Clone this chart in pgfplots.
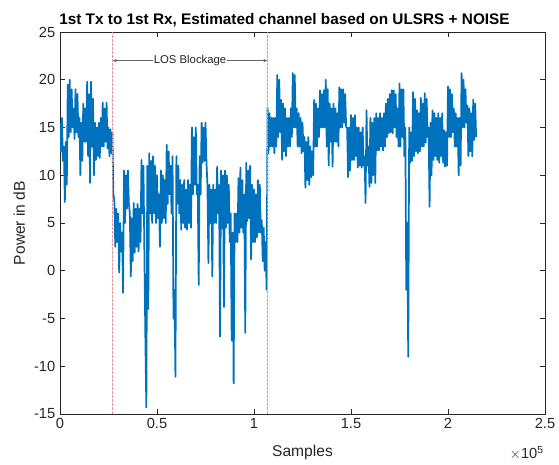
\documentclass[border=0pt]{standalone}
\usepackage{pgfplots}
\pgfplotsset{compat=1.18}
\usepackage{pgfplotstable}
\usepackage{fontspec}
\setmainfont{Liberation Sans}
\usetikzlibrary{arrows.meta}
\definecolor{mblue}{RGB}{0,114,189}
\definecolor{axgray}{RGB}{38,38,38}
\pgfplotstableread{
x y
0 15.5
500 12.5
1000 16
1500 11.5
2000 13
2500 7.2
3000 13.5
3500 9
4000 19.5
4500 14
5000 20
5500 14.5
6000 19
6500 15
7000 17
7500 13.8
8000 19
8500 14.5
9000 18.5
9500 14
10000 16
10500 10
11000 15.5
11500 11.5
12000 17.5
12500 13.5
13000 17
13500 13.5
14000 19.8
14500 12
15000 18.5
15500 9.2
16000 19.8
16500 13
17000 18
17500 10
18000 15.5
18500 11.6
19000 15
19500 12
20000 15.5
20500 11.8
21000 16
21500 13
22000 17.6
22500 13
23000 17
23500 13.5
24000 17.6
24500 12.8
25000 15
25500 12
26000 14.8
26500 12.3
27000 14.5
27500 8
28000 7.4
28500 2.5
29000 6.5
29500 3
30000 6
30500 -0.2
31000 5
31500 2
32000 4
32500 -2.3
33000 10.5
33500 5
34000 10
34500 6.5
35000 10.5
35500 7
36000 6
36500 -0.6
37000 5.5
37500 1
38000 7.1
38500 1.9
39000 6.5
39500 2.5
40000 7
40500 2
41000 6.5
41500 3
42000 11.6
42500 6
43000 11
43500 2
44000 -7
44500 -14.3
45000 11
45500 -4
46000 12.3
46500 6
47000 11.5
47500 5
48000 12
48500 6
49000 11
49500 5
50000 10
50500 5.5
51000 8
51500 2.5
52000 10.5
52500 5
53000 10
53500 5.5
54000 9.5
54500 5
55000 13.2
55500 7
56000 12.5
56500 8
57000 11
57500 6
58000 12
58500 -5
59000 -2
59500 -11.1
60000 12
60500 7
61000 11
61500 6
62000 9.5
62500 4.3
63000 9
63500 5
64000 9.5
64500 4.5
65000 8.5
65500 4.3
66000 9.5
66500 5
67000 9
67500 4.5
68000 15
68500 8
69000 14
69500 9
70000 15
70500 8
71000 9
71500 -1.5
72000 12
72500 8
73000 15.5
73500 11.3
74000 15
74500 11.5
75000 15.5
75500 11.3
76000 9
76500 0.8
77000 9
77500 5
78000 8.5
78500 -0.6
79000 9
79500 5
80000 8.5
80500 5
81000 10.9
81500 6
82000 9
82500 -6.9
83000 10.5
83500 4.5
84000 10
84500 -3.8
85000 10.5
85500 4.5
86000 10
86500 5
87000 9
87500 3
88000 6
88500 -7.3
89000 4
89500 -11.8
90000 6
90500 3
91000 6
91500 3
92000 9.7
92500 4
93000 10.8
93500 4.5
94000 9.5
94500 4
95000 8
95500 -6.5
96000 11.3
96500 5.2
97000 10.5
97500 5.5
98000 11
98500 1.2
99000 9
99500 3
100000 8.5
100500 3
101000 8
101500 3.5
102000 9.5
102500 4
103000 9
103500 4
104000 5.3
104500 1
105000 4.5
105500 0
106000 3
106500 -2
107000 17.1
107500 12.3
108000 16.5
108500 13
109000 16
109500 13
110000 16
110500 12.3
111000 16
111500 13
112000 20.5
112500 14
113000 20
113500 14.5
114000 17.9
114500 11.6
115000 17.5
115500 12.5
116000 17
116500 12
117000 16
117500 13
118000 16
118500 13
119000 17
119500 14
120000 20.7
120500 15
121000 20.5
121500 15
122000 17
122500 13
123000 16.5
123500 13
124000 16
124500 12.3
125000 15.5
125500 12.5
126000 14
126500 8.7
127000 13.5
127500 9.5
128000 14
128500 9
129000 13
129500 9.8
130000 12.5
130500 10
131000 17.9
131500 13
132000 17.5
132500 13
133000 17
133500 14
134000 18.9
134500 15
135000 18.5
135500 15
136000 18.9
136500 15
137000 20
137500 13
138000 19
138500 11
139000 17.5
139500 13.5
140000 17
140500 10.9
141000 17.5
141500 13.5
142000 17
142500 13.5
143000 16.5
143500 13
144000 19.2
144500 15
145000 19
145500 15
146000 19
146500 15.5
147000 18.5
147500 15
148000 15
148500 9.8
149000 15
149500 10.5
150000 16.3
150500 11.6
151000 16
151500 11.6
152000 16.3
152500 12
153000 15
153500 10.8
154000 15
154500 11
155000 14.5
155500 10.8
156000 15
156500 11
157000 12
157500 7.1
158000 16.8
158500 11
159000 13
159500 8.8
160000 16
160500 9.2
161000 15.5
161500 10
162000 16
162500 9.2
163000 16.5
163500 12.6
164000 16
164500 12.6
165000 16.5
165500 13
166000 16
166500 12.6
167000 16.5
167500 13
168000 17.5
168500 14
169000 18
169500 14.4
170000 18.5
170500 14.5
171000 18.9
171500 14.4
172000 18.9
172500 15
173000 18.5
173500 14
174000 17
174500 13
175000 19.6
175500 13
176000 19
176500 14
177000 19
177500 12
178000 15
178500 -2
179000 5
179500 -9
180000 15
180500 11.3
181000 14.5
181500 11.5
182000 18.7
182500 12
183000 18
183500 12.5
184000 16.8
184500 12.3
185000 16.5
185500 12.5
186000 18.1
186500 13
187000 17.5
187500 13
188000 18.6
188500 13.4
189000 18
189500 14
190000 15
190500 6.7
191000 15.5
191500 10
192000 16.8
192500 11.6
193000 16.5
193500 12
194000 16
194500 11.6
195000 16.5
195500 11.3
196000 16
196500 12
197000 16.5
197500 11.3
198000 14.7
198500 10.9
199000 14.5
199500 11
200000 19.3
200500 14
201000 19
201500 14
202000 18.5
202500 14.5
203000 17
203500 13
204000 16.5
204500 13
205000 16
205500 10
206000 16
206500 11
207000 20.7
207500 15
208000 20
208500 15
209000 19
209500 15.5
210000 17.3
210500 12
211000 17
211500 12.5
212000 16.5
212500 12
213000 17.9
213500 13.7
214000 17.5
214500 14
}\chdata
\begin{document}
\begin{tikzpicture}
\begin{axis}[
  at={(0,0)}, anchor=south west,
  width=363.75pt, height=286.5pt, scale only axis,
  xmin=0, xmax=250000, ymin=-15, ymax=25,
  xtick={0,50000,100000,150000,200000,250000},
  xticklabels={0,0.5,1,1.5,2,2.5},
  ytick={-15,-10,-5,0,5,10,15,20,25},
  yticklabels={-15,-10,-5,0,5,10,15,20,25},
  scaled x ticks=false, scaled y ticks=false,
  axis line style={axgray, line width=0.5pt},
  tick style={axgray, line width=0.5pt},
  major tick length=4pt,
  ticklabel style={font=\fontsize{11}{13}\selectfont, text=axgray},
  xlabel={Samples}, ylabel={Power in dB},
  label style={font=\fontsize{11.7}{14}\selectfont, text=axgray},
  xlabel style={yshift=-5pt},
  title={\bfseries 1st Tx to 1st Rx, Estimated channel based on ULSRS + NOISE},
  title style={font=\fontsize{11.5}{13}\selectfont, yshift=-6pt, xshift=-13.5pt},
]
\addplot[mblue, line width=1.3pt, line join=round] table[x=x, y=y] {\chdata};
\addplot[red!45, dash pattern=on 0.5pt off 0.5pt, line width=0.6pt] coordinates {(27200,-15) (27200,25)};
\addplot[red!45, dash pattern=on 0.5pt off 0.5pt, line width=0.6pt] coordinates {(106900,-15) (106900,25)};
\draw[{Stealth[length=3pt,width=2.5pt]}-{Stealth[length=3pt,width=2.5pt]}, black!60, line width=0.4pt] (axis cs:27200,22) -- (axis cs:106900,22) node[midway, fill=white, inner sep=0.8pt, font=\fontsize{8.5}{10}\selectfont, text=black!85] {LOS Blockage};
\end{axis}
\node[anchor=north east, inner sep=0pt, font=\fontsize{11}{13}\selectfont, text=axgray] at (363pt,-24pt) {$\times$10\textsuperscript{5}};
\pgfresetboundingbox
\path[use as bounding box] (-45pt,-37.5pt) rectangle (374.25pt,310.5pt);
\end{tikzpicture}
\end{document}
